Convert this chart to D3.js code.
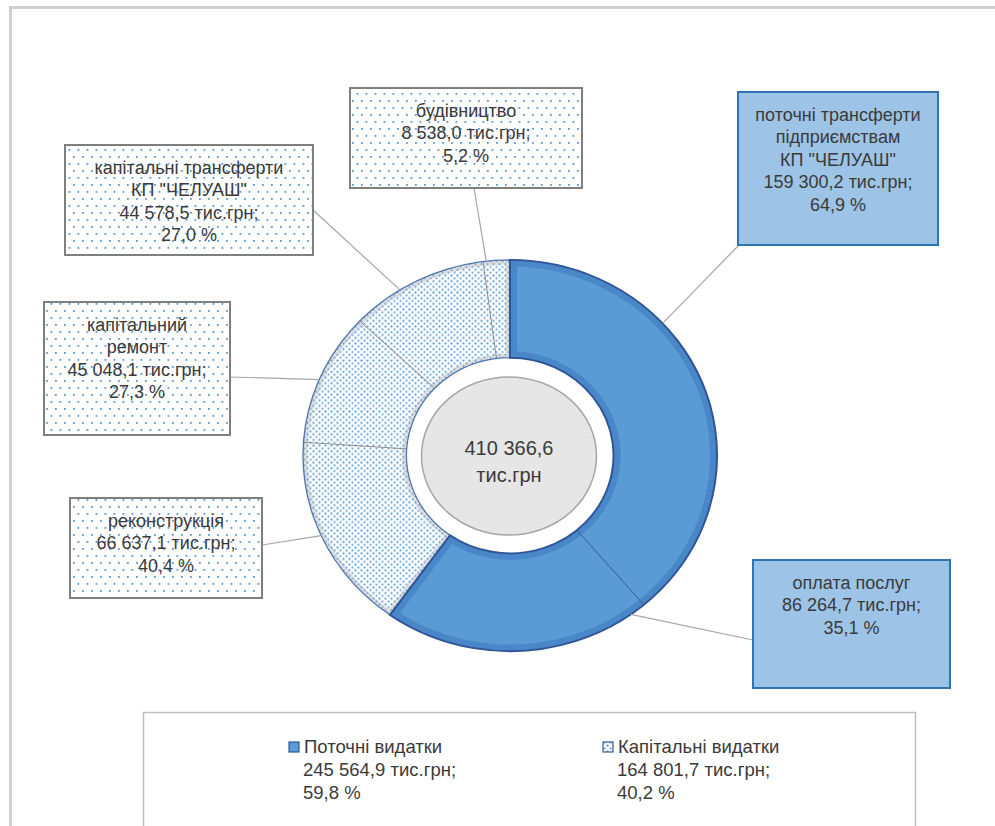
<!DOCTYPE html>
<html>
<head>
<meta charset="utf-8">
<script src="https://cdn.jsdelivr.net/npm/d3@7"></script>
<style>
  body { margin: 0; background: #fff; }
  text { font-family: "Liberation Sans", Arial, sans-serif; fill: #3a3a3a; }
</style>
</head>
<body>
<div id="chart"></div>
<script>
// outer groups of the budget
var seriesNames = ["Поточні видатки", "Капітальні видатки"];
var seriesValues = [245564.9, 164801.7];

// sub items, clockwise from 12 o'clock
var itemNames = [
    ["поточні трансферти", "підприємствам", "КП \"ЧЕЛУАШ\""],
    ["оплата послуг"],
    ["реконструкція"],
    ["капітальний", "ремонт"],
    ["капітальні трансферти", "КП \"ЧЕЛУАШ\""],
    ["будівництво"]
];
var itemValues = [159300.2, 86264.7, 66637.1, 45048.1, 44578.5, 8538.0];
var itemSeries = [0, 0, 1, 1, 1, 1];
var unit = "тис.грн";

(function () {
    var width = 995, height = 826;
    var cx = 510, cy = 455.5, R = 207, r0 = 103.5, sy = 0.945;

    // where the label boxes sit (and where the leader line leaves them)
    var boxes = [
        { x: 738, y: 92, w: 200, h: 153, ax: 739, ay: 245, at: 0.34 },
        { x: 753, y: 560, w: 197, h: 128, ax: 753, ay: 640, at: 0.06 },
        { x: 70, y: 498, w: 192, h: 100, ax: 262, ay: 545, at: 0.52 },
        { x: 44, y: 302, w: 186, h: 133, ax: 230, ay: 377, at: 0.48 },
        { x: 65, y: 145, w: 248, h: 110, ax: 313, ay: 210, at: 0.37 },
        { x: 350, y: 88, w: 232, h: 100, ax: 474, ay: 188, at: 0.12 }
    ];

    var loc = d3.formatLocale({ decimal: ",", thousands: " ", grouping: [3], currency: ["", ""] });
    var fmt = loc.format(",.1f");
    var pct = function (v, t) { return loc.format(".1f")(v / t * 100) + " %"; };

    var svg = d3.select("#chart").append("svg")
        .attr("width", width)
        .attr("height", height);

    var defs = svg.append("defs");

    // dense dots for the capital part of the ring
    var p1 = defs.append("pattern").attr("id", "dotsRing")
        .attr("patternUnits", "userSpaceOnUse").attr("width", 6).attr("height", 6);
    p1.append("rect").attr("width", 6).attr("height", 6).attr("fill", "#fff");
    p1.append("rect").attr("x", 0.5).attr("y", 0.5).attr("width", 2).attr("height", 2).attr("fill", "#5b9bd5");
    p1.append("rect").attr("x", 3.5).attr("y", 3.5).attr("width", 2).attr("height", 2).attr("fill", "#6fa8dc");

    // sparse dots for the label boxes
    var p2 = defs.append("pattern").attr("id", "dotsBox")
        .attr("patternUnits", "userSpaceOnUse").attr("width", 9).attr("height", 14);
    p2.append("rect").attr("width", 9).attr("height", 14).attr("fill", "#fff");
    p2.append("rect").attr("x", 1).attr("y", 2).attr("width", 1.8).attr("height", 1.8).attr("fill", "#5b9bd5");
    p2.append("rect").attr("x", 5.5).attr("y", 9).attr("width", 1.8).attr("height", 1.8).attr("fill", "#5b9bd5");

    // chart area frame (only top and left show)
    svg.append("path")
        .attr("d", "M10.5,826 L10.5,7.5 L995,7.5")
        .attr("fill", "none").attr("stroke", "#d0d0d0").attr("stroke-width", 3);

    var pie = d3.pie().sort(null).value(function (d) { return d; });
    var seriesArcs = pie(seriesValues);
    var itemArcs = pie(itemValues);
    var total = d3.sum(seriesValues);

    var arc = d3.arc().innerRadius(r0).outerRadius(R);

    var ring = svg.append("g")
        .attr("transform", "translate(" + cx + "," + cy + ") scale(1," + sy + ")");

    // series shapes with a bevel band along the edges
    seriesArcs.forEach(function (d, i) {
        defs.append("clipPath").attr("id", "clip" + i)
            .append("path").attr("d", arc(d));
        ring.append("path")
            .attr("d", arc(d))
            .attr("fill", i === 0 ? "#5b9bd5" : "url(#dotsRing)");
        ring.append("path")
            .attr("d", arc(d))
            .attr("clip-path", "url(#clip" + i + ")")
            .attr("fill", "none")
            .attr("stroke", i === 0 ? "#4a87c8" : "rgba(170,170,170,0.35)")
            .attr("stroke-width", i === 0 ? 14 : 9);
    });

    // thin dividers between sub items
    itemArcs.forEach(function (d, i) {
        if (i === 0 || itemSeries[i] !== itemSeries[i - 1]) return;
        var a = d.startAngle;
        ring.append("line")
            .attr("x1", r0 * Math.sin(a)).attr("y1", -r0 * Math.cos(a))
            .attr("x2", R * Math.sin(a)).attr("y2", -R * Math.cos(a))
            .attr("stroke", itemSeries[i] === 0 ? "#34598f" : "#8a8a8a")
            .attr("stroke-width", 1);
    });

    // outlines on top
    ring.append("path").attr("d", arc(seriesArcs[1]))
        .attr("fill", "none").attr("stroke", "#4f74b0").attr("stroke-width", 1.3);
    ring.append("path").attr("d", arc(seriesArcs[0]))
        .attr("fill", "none").attr("stroke", "#2f5597").attr("stroke-width", 2);

    // center total
    svg.append("ellipse")
        .attr("cx", 509).attr("cy", 456).attr("rx", 87.5).attr("ry", 79)
        .attr("fill", "#e7e6e6").attr("stroke", "#a6a6a6").attr("stroke-width", 1.5);
    svg.append("text")
        .attr("x", 509).attr("y", 455)
        .attr("text-anchor", "middle").style("font-size", "20px")
        .text(fmt(total));
    svg.append("text")
        .attr("x", 509).attr("y", 482)
        .attr("text-anchor", "middle").style("font-size", "20px")
        .text(unit);

    // leader lines + label boxes
    itemArcs.forEach(function (d, i) {
        var b = boxes[i];
        var s = itemSeries[i];
        var a = d.startAngle + b.at * (d.endAngle - d.startAngle);
        svg.append("line")
            .attr("x1", b.ax).attr("y1", b.ay)
            .attr("x2", cx + R * Math.sin(a)).attr("y2", cy - R * Math.cos(a) * sy)
            .attr("stroke", "#a6a6a6").attr("stroke-width", 1.2);

        svg.append("rect")
            .attr("x", b.x).attr("y", b.y).attr("width", b.w).attr("height", b.h)
            .attr("fill", s === 0 ? "#9dc3e6" : "url(#dotsBox)")
            .attr("stroke", s === 0 ? "#2e75b6" : "#7f7f7f")
            .attr("stroke-width", 2);

        var sTotal = seriesValues[s];
        var lines = itemNames[i].concat([fmt(itemValues[i]) + " " + unit + ";", pct(itemValues[i], sTotal)]);
        var t = svg.append("text").attr("text-anchor", "middle").style("font-size", "18px");
        lines.forEach(function (ln, k) {
            t.append("tspan")
                .attr("x", b.x + b.w / 2)
                .attr("y", b.y + 22.5 + k * 22.5 + 6)
                .text(ln);
        });
    });

    // legend
    svg.append("rect")
        .attr("x", 143.5).attr("y", 712.5).attr("width", 772).attr("height", 140)
        .attr("fill", "#fff").attr("stroke", "#bfbfbf").attr("stroke-width", 1.5);

    var legX = [289, 603];
    seriesNames.forEach(function (name, i) {
        var g = svg.append("g");
        g.append("rect")
            .attr("x", legX[i]).attr("y", 742).attr("width", 10).attr("height", 10)
            .attr("fill", i === 0 ? "#5b9bd5" : "url(#dotsRing)")
            .attr("stroke", "#2f5597").attr("stroke-width", 1.2);
        var t = g.append("text").style("font-size", "18.5px");
        var lines = [name, fmt(seriesValues[i]) + " " + unit + ";", pct(seriesValues[i], total)];
        lines.forEach(function (ln, k) {
            t.append("tspan")
                .attr("x", k === 0 ? legX[i] + 15 : legX[i] + 14)
                .attr("y", 753 + k * 23)
                .text(ln);
        });
    });
})();
</script>
</body>
</html>
